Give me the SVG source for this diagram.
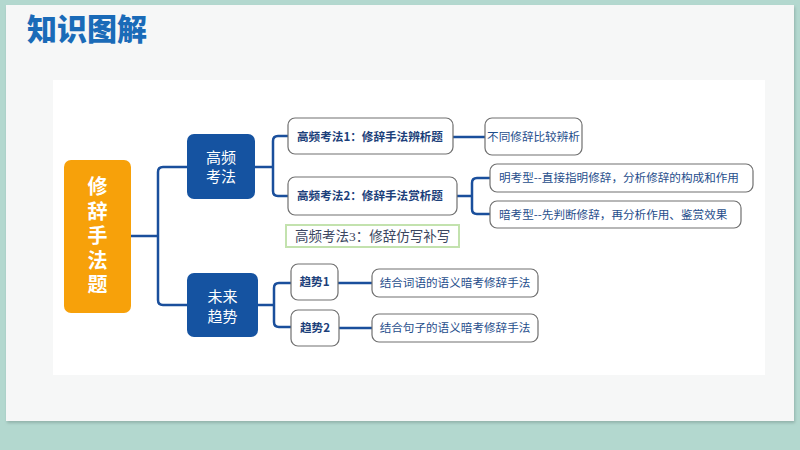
<svg xmlns="http://www.w3.org/2000/svg" width="800" height="450" viewBox="0 0 800 450">
<defs>
<filter id="sh" x="-5%" y="-5%" width="110%" height="110%"><feDropShadow dx="1" dy="2" stdDeviation="1.5" flood-color="#7a9a92" flood-opacity="0.6"/></filter>
<style>
.cjk{font-family:"Noto Sans CJK SC","Noto Sans",sans-serif}
.box{fill:#ffffff;stroke:#707070;stroke-width:1.2}
.blue{fill:#1553a1}
.lbl{font-size:11.6px;fill:#1f4e8c}
.bold{font-size:11.6px;font-weight:700;fill:#1c3f7a}
.wt{fill:#ffffff;font-size:15px;text-anchor:middle}
.conn{fill:none;stroke:#1a4f9c;stroke-width:2.5;stroke-linejoin:round}
</style>
</defs>
<rect x="0" y="0" width="800" height="450" fill="#b3d8cf"/>
<rect x="6" y="5" width="788" height="416" fill="#f6f7f7" filter="url(#sh)"/>
<rect x="53" y="80" width="712" height="295" fill="#ffffff"/>
<text x="27" y="40" class="cjk" font-size="30" font-weight="900" fill="#1a6bb8">知识图解</text>

<g id="connectors" class="conn">
<path d="M131 236 H158"/>
<path d="M187 167 H163 Q158 167 158 172 V300 Q158 305 163 305 H187"/>
<path d="M255 167 H273"/>
<path d="M288 136 H278 Q273 136 273 141 V191 Q273 196 278 196 H288"/>
<path d="M453 137 H485"/>
<path d="M457 196 H472"/>
<path d="M490 178 H477 Q472 178 472 183 V209 Q472 214 477 214 H490"/>
<path d="M258 305 H274"/>
<path d="M291 283 H279 Q274 283 274 288 V322 Q274 327 279 327 H291"/>
<path d="M338 283 H372 M339 328 H372"/>
</g>

<g id="root">
<rect x="64" y="160" width="67" height="153" rx="7" fill="#f7a10a"/>
<text x="97.5" y="238" class="cjk" fill="#ffffff" font-size="20" font-weight="700" text-anchor="middle" style="writing-mode:vertical-rl;letter-spacing:4.5px">修辞手法题</text>
</g>

<g id="gaopin">
<rect x="187" y="134" width="68" height="65" rx="7" class="blue"/>
<text class="cjk wt"><tspan x="221" y="163">高频</tspan><tspan x="221" y="182">考法</tspan></text>
</g>

<g id="weilai">
<rect x="187" y="273" width="71" height="64" rx="7" class="blue"/>
<text class="cjk wt"><tspan x="222.5" y="302">未来</tspan><tspan x="222.5" y="322">趋势</tspan></text>
</g>

<g id="kaofa1">
<rect x="288" y="118" width="165" height="36" rx="7" class="box"/>
<text x="297" y="141" class="cjk bold">高频考法1：修辞手法辨析题</text>
</g>

<g id="kaofa2">
<rect x="288" y="177" width="169" height="38" rx="7" class="box"/>
<text x="297" y="200" class="cjk bold">高频考法2：修辞手法赏析题</text>
</g>

<g id="kaofa3">
<rect x="286" y="225" width="173" height="22" fill="#ffffff" stroke="#c3e2ae" stroke-width="2"/>
<text x="295" y="241" font-family="Liberation Serif,'Noto Sans CJK SC',serif" font-size="13.5" fill="#3b4660">高频考法3：修辞仿写补写</text>
</g>

<g id="butong">
<rect x="485" y="118" width="97" height="37" rx="7" class="box"/>
<text x="533.5" y="141" class="cjk lbl" text-anchor="middle" font-size="11">不同修辞比较辨析</text>
</g>

<g id="mingkao">
<rect x="490" y="164" width="263" height="28" rx="7" class="box"/>
<text x="499" y="182" class="cjk lbl">明考型--直接指明修辞，分析修辞的构成和作用</text>
</g>

<g id="ankao">
<rect x="490" y="201" width="251" height="27" rx="7" class="box"/>
<text x="499" y="219" class="cjk lbl">暗考型--先判断修辞，再分析作用、鉴赏效果</text>
</g>

<g id="qushi1">
<rect x="291" y="264" width="47" height="36" rx="7" class="box"/>
<text x="314.5" y="286" class="cjk bold" text-anchor="middle">趋势1</text>
</g>

<g id="qushi2">
<rect x="291" y="310" width="48" height="36" rx="7" class="box"/>
<text x="315" y="332" class="cjk bold" text-anchor="middle">趋势2</text>
</g>

<g id="ciyu">
<rect x="372" y="269" width="166" height="28" rx="7" class="box"/>
<text x="455" y="287" class="cjk lbl" text-anchor="middle">结合词语的语义暗考修辞手法</text>
</g>

<g id="juzi">
<rect x="372" y="314" width="166" height="28" rx="7" class="box"/>
<text x="455" y="332" class="cjk lbl" text-anchor="middle">结合句子的语义暗考修辞手法</text>
</g>
</svg>
